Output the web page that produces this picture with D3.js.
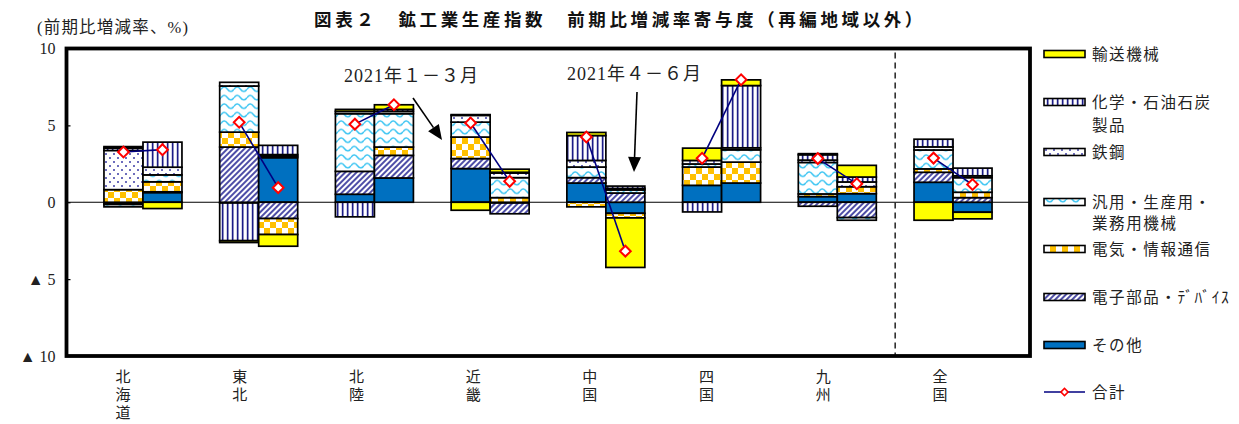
<!DOCTYPE html>
<html lang="ja">
<head>
<meta charset="utf-8">
<script src="https://cdn.jsdelivr.net/npm/d3@7"></script>
<style>
  body { margin: 0; background: #fff; }
  svg { display: block; }
</style>
</head>
<body>
<svg id="chart" width="1239" height="424"></svg>
<script>
// ---- data -------------------------------------------------------------
const regions = ["北海道", "東北", "北陸", "近畿", "中国", "四国", "九州", "全国"];
const periods = ["2021年１－３月", "2021年４－６月"];

// contribution by industry, order: region x period (Q1, Q2, Q1, Q2, ...)
const otherIndustries = [-0.05, 0.63, -0.05, 2.90, 0.52, 1.58, 2.19, -0.05, 1.25, -0.72, 1.10, 1.25, 0.37, 0.56, 1.30, -0.65];
const electronicParts = [-0.10, 0.05, 3.59, -1.06, 1.49, 1.47, 0.65, -0.70, 0.35, 0.60, 0, 0, -0.26, -1.00, 0.65, 0.30];
const electrical      = [0.82, 0.65, 0.97, -1.04, 0, 0.54, 1.40, 0.30, -0.30, -0.30, 1.19, 1.36, 0.17, 0.45, 0.22, 0.35];
const machinery       = [-0.15, 0.45, 3.00, 0.10, 3.75, 2.17, 0.97, 1.30, 0.69, 0.20, 0.20, 0.80, 2.05, -0.17, 1.23, 0.95];
const ironSteel       = [2.55, 0.50, 0.24, 0.10, 0.15, 0.15, 0.44, 0.30, 0.43, 0.10, 0.23, 0.13, 0.15, 0.31, 0.20, 0.12];
const chemicals       = [0.15, 1.63, -2.45, 0.60, -0.95, 0.13, 0.05, 0.05, 1.62, 0.15, -0.63, 4.05, 0.35, 0.32, 0.50, 0.50];
const transport       = [0.10, -0.41, -0.12, -0.76, 0.13, 0.30, -0.52, 0.20, 0.20, -3.22, 0.80, 0.37, 0.07, 0.76, -1.17, -0.43];
const totalChange     = [3.27, 3.42, 5.20, 0.95, 5.08, 6.34, 5.15, 1.36, 4.24, -3.18, 2.86, 7.97, 2.84, 1.20, 2.87, 1.15];

const yTickValues = [-10, -5, 0, 5, 10];

// stacking order from the zero line outward
const series = [
  { name: "その他", values: otherIndustries, fill: "#0070C0" },
  { name: "電子部品・ﾃﾞﾊﾞｲｽ", values: electronicParts, fill: "url(#pDiag)" },
  { name: "電気・情報通信", values: electrical, fill: "url(#pCheck)" },
  { name: "汎用・生産用・業務用機械", values: machinery, fill: "url(#pWave)" },
  { name: "鉄鋼", values: ironSteel, fill: "url(#pDots)" },
  { name: "化学・石油石炭製品", values: chemicals, fill: "url(#pVert)" },
  { name: "輸送機械", values: transport, fill: "#FFFF00" }
];

// ---- layout -----------------------------------------------------------
const svg = d3.select("#chart");
const frame = { left: 66.5, right: 1030, top: 48.5, bottom: 356 };

const y = d3.scaleLinear().domain([-10, 10]).range([frame.bottom, frame.top]);
const x = d3.scaleBand().domain(regions).range([85.1, 1010.9]).padding(0);
const barW = 39;
const sub = d3.scaleBand().domain(periods)
  .range([x.bandwidth() / 2 - barW, x.bandwidth() / 2 + barW]).padding(0);
const labelX = d3.scalePoint().domain(regions).range([123, 940]);

const serif = "'Liberation Serif', 'Noto Sans CJK JP', serif";
const cjk = "'Noto Sans CJK JP', sans-serif";

// ---- patterns ---------------------------------------------------------
const defs = svg.append("defs");

const pVert = defs.append("pattern").attr("id", "pVert")
  .attr("patternUnits", "userSpaceOnUse").attr("width", 5).attr("height", 10);
pVert.append("rect").attr("width", 5).attr("height", 10).attr("fill", "#fff");
pVert.append("rect").attr("x", 1.8).attr("width", 1.7).attr("height", 10).attr("fill", "#1C1C86");

const pDots = defs.append("pattern").attr("id", "pDots")
  .attr("patternUnits", "userSpaceOnUse").attr("width", 8).attr("height", 8);
pDots.append("rect").attr("width", 8).attr("height", 8).attr("fill", "#fff");
pDots.append("circle").attr("cx", 2).attr("cy", 2).attr("r", 1).attr("fill", "#3A3AA6");
pDots.append("circle").attr("cx", 6).attr("cy", 6).attr("r", 1).attr("fill", "#3A3AA6");

const pWave = defs.append("pattern").attr("id", "pWave")
  .attr("patternUnits", "userSpaceOnUse").attr("width", 13).attr("height", 8.5);
pWave.append("rect").attr("width", 13).attr("height", 8.5).attr("fill", "#fff");
pWave.append("path").attr("d", "M0,4.2 C2.2,1.2 4.3,1.2 6.5,4.2 S10.8,7.2 13,4.2")
  .attr("fill", "none").attr("stroke", "#36C3F2").attr("stroke-width", 1.5);

const pCheck = defs.append("pattern").attr("id", "pCheck")
  .attr("patternUnits", "userSpaceOnUse").attr("width", 12).attr("height", 12);
pCheck.append("rect").attr("width", 12).attr("height", 12).attr("fill", "#fff");
pCheck.append("rect").attr("width", 6).attr("height", 6).attr("fill", "#FFC000");
pCheck.append("rect").attr("x", 6).attr("y", 6).attr("width", 6).attr("height", 6).attr("fill", "#FFC000");

const pDiag = defs.append("pattern").attr("id", "pDiag")
  .attr("patternUnits", "userSpaceOnUse").attr("width", 4).attr("height", 10)
  .attr("patternTransform", "rotate(45)");
pDiag.append("rect").attr("width", 4).attr("height", 10).attr("fill", "#fff");
pDiag.append("rect").attr("x", 1.1).attr("width", 1.8).attr("height", 10).attr("fill", "#3A3A9E");

// ---- title & axis caption ---------------------------------------------
svg.append("text")
  .attr("x", 620).attr("y", 26)
  .attr("text-anchor", "middle")
  .attr("font-family", cjk).attr("font-weight", 700)
  .attr("font-size", 17.5).attr("letter-spacing", 3.6)
  .attr("fill", "#111")
  .text("図表２　鉱工業生産指数　前期比増減率寄与度（再編地域以外）");

svg.append("text")
  .attr("x", 37).attr("y", 33)
  .attr("font-family", serif).attr("font-size", 16.5)
  .attr("letter-spacing", 1.2)
  .attr("fill", "#222")
  .text("(前期比増減率、%)");

// ---- zero line & separator --------------------------------------------
svg.append("line")
  .attr("x1", frame.left).attr("x2", frame.right)
  .attr("y1", y(0)).attr("y2", y(0))
  .attr("stroke", "#000").attr("stroke-width", 1.2);

svg.append("line")
  .attr("x1", x("全国")).attr("x2", x("全国"))
  .attr("y1", frame.top + 4).attr("y2", frame.bottom)
  .attr("stroke", "#222").attr("stroke-width", 1.5)
  .attr("stroke-dasharray", "6,4");

// ---- stacked bars -----------------------------------------------------
const cells = [];
regions.forEach((r, ri) => {
  periods.forEach((p, pi) => {
    const k = ri * periods.length + pi;
    let pos = 0, neg = 0;
    series.forEach(s => {
      const v = s.values[k];
      if (!v) return;
      let y0, y1;
      if (v > 0) { y0 = pos; y1 = pos + v; pos = y1; }
      else { y0 = neg; y1 = neg + v; neg = y1; }
      cells.push({ region: r, period: p, y0, y1, fill: s.fill });
    });
  });
});

svg.append("g").selectAll("rect").data(cells).join("rect")
  .attr("x", d => x(d.region) + sub(d.period))
  .attr("width", sub.bandwidth())
  .attr("y", d => y(Math.max(d.y0, d.y1)))
  .attr("height", d => Math.abs(y(d.y0) - y(d.y1)))
  .attr("fill", d => d.fill)
  .attr("stroke", "#000").attr("stroke-width", 1.7);

// ---- total line & markers ---------------------------------------------
const totals = [];
regions.forEach((r, ri) => periods.forEach((p, pi) => {
  totals.push({ region: r, period: p, v: totalChange[ri * periods.length + pi] });
}));
const cx = d => x(d.region) + sub(d.period) + sub.bandwidth() / 2;
const line = d3.line().x(cx).y(d => y(d.v));

svg.append("g").selectAll("path").data(d3.groups(totals, d => d.region)).join("path")
  .attr("d", d => line(d[1]))
  .attr("fill", "none").attr("stroke", "#000080").attr("stroke-width", 1.6);

const marker = d3.symbol().type(d3.symbolSquare).size(58);
svg.append("g").selectAll("path").data(totals).join("path")
  .attr("d", marker)
  .attr("transform", d => `translate(${cx(d)},${y(d.v)}) rotate(45)`)
  .attr("fill", "#fff").attr("stroke", "#FF0000").attr("stroke-width", 2);

// ---- frame ------------------------------------------------------------
svg.append("rect")
  .attr("x", frame.left).attr("y", frame.top)
  .attr("width", frame.right - frame.left).attr("height", frame.bottom - frame.top)
  .attr("fill", "none").attr("stroke", "#000").attr("stroke-width", 3.8);

// ---- y axis -----------------------------------------------------------
const yAxis = d3.axisLeft(y)
  .tickValues(yTickValues)
  .tickSizeInner(-4).tickSizeOuter(0)
  .tickPadding(11)
  .tickFormat(d => d < 0 ? "▲ " + (-d) : String(d));
const gy = svg.append("g").attr("transform", `translate(${frame.left},0)`).call(yAxis);
gy.select(".domain").remove();
gy.selectAll(".tick line").attr("stroke", "#000").attr("stroke-width", 1.2);
gy.selectAll(".tick text")
  .attr("font-family", serif).attr("font-size", 16).attr("fill", "#222");

// ---- category labels (vertical writing) -------------------------------
svg.append("g").selectAll("text").data(regions).join("text")
  .attr("x", d => labelX(d)).attr("y", 369)
  .attr("writing-mode", "vertical-rl")
  .style("text-orientation", "upright")
  .attr("font-family", cjk).attr("font-size", 15)
  .attr("letter-spacing", 3)
  .attr("fill", "#222")
  .text(d => d);

// ---- period annotations -----------------------------------------------
const arrowHead = (g, x1, y1, x2, y2) => {
  const a = Math.atan2(y2 - y1, x2 - x1);
  const L = 15, W = 6.5;
  const bx = x2 - L * Math.cos(a), by = y2 - L * Math.sin(a);
  g.append("line").attr("x1", x1).attr("y1", y1).attr("x2", bx).attr("y2", by)
    .attr("stroke", "#000").attr("stroke-width", 1.6);
  g.append("path")
    .attr("d", `M${x2},${y2} L${bx - W * Math.sin(a)},${by + W * Math.cos(a)} L${bx + W * Math.sin(a)},${by - W * Math.cos(a)} Z`)
    .attr("fill", "#000");
};
const ann = svg.append("g");
ann.append("text").attr("x", 344).attr("y", 82)
  .attr("font-family", serif).attr("font-size", 18).attr("letter-spacing", 1)
  .attr("fill", "#222")
  .text(periods[0]);
arrowHead(ann, 413, 98, 442, 140);
ann.append("text").attr("x", 567).attr("y", 80)
  .attr("font-family", serif).attr("font-size", 18).attr("letter-spacing", 1)
  .attr("fill", "#222")
  .text(periods[1]);
arrowHead(ann, 637, 92, 634, 172);

// ---- legend -----------------------------------------------------------
const legendItems = [
  { fill: "#FFFF00", lines: ["輸送機械"], y: 54, gap: 0 },
  { fill: "url(#pVert)", lines: ["化学・石油石炭", "製品"], y: 102, gap: 23.5 },
  { fill: "url(#pDots)", lines: ["鉄鋼"], y: 152, gap: 0 },
  { fill: "url(#pWave)", lines: ["汎用・生産用・", "業務用機械"], y: 202, gap: 21.5 },
  { fill: "url(#pCheck)", lines: ["電気・情報通信"], y: 249, gap: 0 },
  { fill: "url(#pDiag)", lines: ["電子部品・ﾃﾞﾊﾞｲｽ"], y: 297, gap: 0 },
  { fill: "#0070C0", lines: ["その他"], y: 345, gap: 0 }
];
const lg = svg.append("g");
legendItems.forEach(it => {
  lg.append("rect").attr("x", 1044).attr("y", it.y - 3.5).attr("width", 41).attr("height", 7)
    .attr("fill", it.fill).attr("stroke", "#000").attr("stroke-width", 1.6);
  it.lines.forEach((ln, i) => {
    lg.append("text").attr("x", 1092).attr("y", it.y + 5.5 + i * it.gap)
      .attr("font-family", cjk).attr("font-size", 15.5)
      .attr("letter-spacing", 1.6).attr("fill", "#222")
      .text(ln);
  });
});
lg.append("line").attr("x1", 1044).attr("x2", 1085).attr("y1", 392).attr("y2", 392)
  .attr("stroke", "#000080").attr("stroke-width", 1.6);
lg.append("path").attr("d", d3.symbol().type(d3.symbolSquare).size(26))
  .attr("transform", "translate(1064.5,392) rotate(45)")
  .attr("fill", "#fff").attr("stroke", "#FF0000").attr("stroke-width", 1.6);
lg.append("text").attr("x", 1092).attr("y", 397.5)
  .attr("font-family", cjk).attr("font-size", 15.5).attr("letter-spacing", 1.6).attr("fill", "#222")
  .text("合計");
</script>
</body>
</html>
